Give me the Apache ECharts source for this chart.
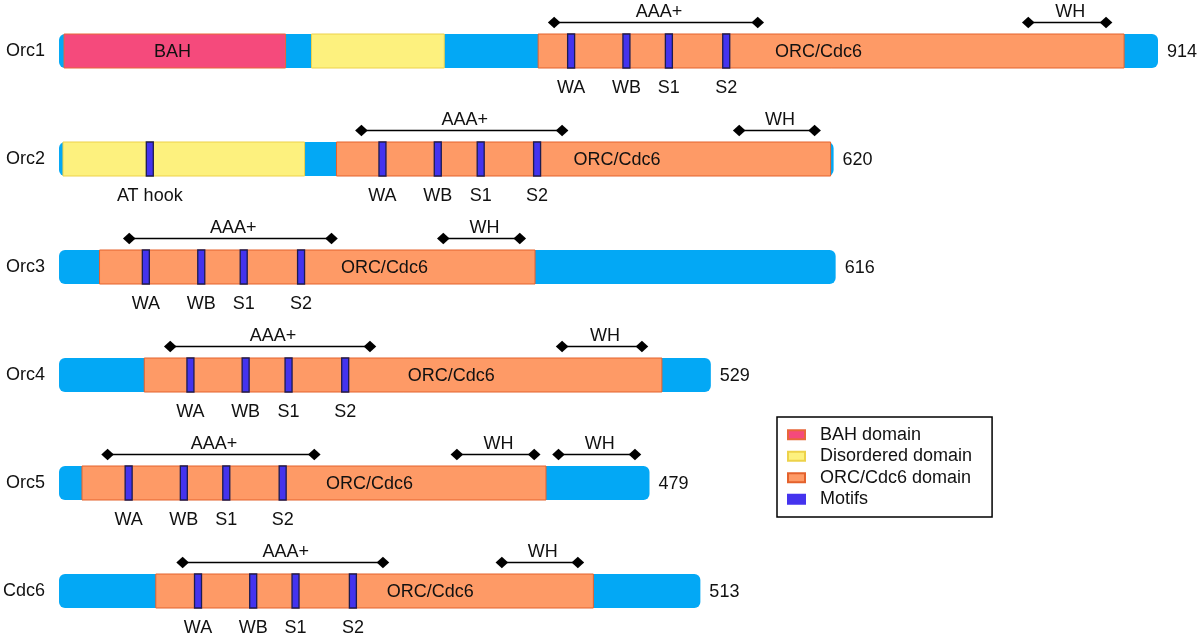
<!DOCTYPE html>
<html><head><meta charset="utf-8">
<script src="https://cdn.jsdelivr.net/npm/echarts@6/dist/echarts.min.js"></script>
<style>html,body{margin:0;padding:0;background:#fff}#c{width:1200px;height:638px}</style>
</head><body><div id="c"></div>
<script>
// ---- data (x in residue-like units along a shared axis, row = protein index) ----
const proteins = ['Orc1', 'Orc2', 'Orc3', 'Orc4', 'Orc5', 'Cdc6'];
const lengthLabels = ['914', '620', '616', '529', '479', '513'];
const drawnLength = [914, 644.2, 645.9, 542.1, 491.1, 533.4];
const bahDomains = [[0, 4.2, 188.4, 'BAH']];
const disorderedDomains = [[0, 210.0, 320.4], [1, 3.3, 204.2]];
const orcDomains = [[0, 398.5, 885.8], [1, 230.8, 641.7], [2, 33.7, 395.9], [3, 70.9, 501.4], [4, 19.1, 405.0], [5, 80.5, 444.4]];
const orcLabelPos = [631.7, 464.0, 270.6, 326.2, 258.2, 308.8];
const motifs = [
  [0, 425.9, 'WA'], [0, 471.9, 'WB'], [0, 507.2, 'S1'], [0, 554.9, 'S2'],
  [1, 75.5, 'AT hook'], [1, 269.0, 'WA'], [1, 315.0, 'WB'], [1, 350.7, 'S1'], [1, 397.6, 'S2'],
  [2, 72.2, 'WA'], [2, 118.3, 'WB'], [2, 153.6, 'S1'], [2, 201.3, 'S2'],
  [3, 109.3, 'WA'], [3, 155.2, 'WB'], [3, 190.9, 'S1'], [3, 238.0, 'S2'],
  [4, 57.9, 'WA'], [4, 103.8, 'WB'], [4, 139.1, 'S1'], [4, 186.0, 'S2'],
  [5, 115.6, 'WA'], [5, 161.5, 'WB'], [5, 196.7, 'S1'], [5, 244.4, 'S2']
];
const aaaSpans = [[0, 411.8, 581.1], [1, 251.5, 418.4], [2, 58.4, 226.6], [3, 92.5, 258.6], [4, 40.4, 212.3], [5, 102.8, 269.4]];
const whSpans = [[0, 806.1, 870.8], [1, 565.7, 628.4], [2, 319.6, 383.2], [3, 418.4, 484.8], [4, 330.9, 395.2], [4, 415.4, 479.0], [5, 368.3, 431.5]];
const legendNames = ['BAH domain', 'Disordered domain', 'ORC/Cdc6 domain', 'Motifs'];

// ---- styles ----
const FONT = "'Liberation Sans', Arial, Helvetica, sans-serif";
const BAR_H = 34;
const MOTIF_W = 7;
const C = {
  base: '#03A8F5', bah: '#F54A7C', bahB: '#E8673A', dis: '#FDF17E', disB: '#EDD24A',
  orc: '#FE9A66', orcB: '#E4622C', motif: '#4433EE', motifB: '#1C1C50'
};

function rectSeries(name, data, fill, stroke, labelFn) {
  return {
    type: 'custom', name: name, data: data,
    itemStyle: { color: fill, borderColor: stroke, borderWidth: 1 },
    encode: { x: [1, 2], y: 0 },
    renderItem: function (params, api) {
      const s = api.coord([api.value(1), api.value(0)]);
      const e = api.coord([api.value(2), api.value(0)]);
      const children = [{
        type: 'rect',
        shape: { x: s[0], y: s[1] - BAR_H / 2, width: e[0] - s[0], height: BAR_H },
        style: { fill: fill, stroke: stroke, lineWidth: 1 }
      }];
      const lab = labelFn ? labelFn(params.dataIndex) : null;
      if (lab) {
        const p = api.coord([lab.x, api.value(0)]);
        children.push({ type: 'text', x: p[0], y: p[1] + 1, style: { text: lab.text, fill: '#111', font: '18px ' + FONT, align: 'center', verticalAlign: 'middle' } });
      }
      return { type: 'group', children: children };
    }
  };
}

const baseData = proteins.map((p, i) => [i, 0, drawnLength[i]]);

const series = [
  {
    type: 'custom', name: 'protein', data: baseData, encode: { x: [1, 2], y: 0 },
    renderItem: function (params, api) {
      const i = params.dataIndex;
      const s = api.coord([api.value(1), api.value(0)]);
      const e = api.coord([api.value(2), api.value(0)]);
      return { type: 'group', children: [
        { type: 'rect', shape: { x: s[0], y: s[1] - BAR_H / 2, width: e[0] - s[0], height: BAR_H, r: 6 }, style: { fill: C.base } },
        { type: 'text', x: e[0] + 9, y: s[1] + 1, style: { text: lengthLabels[i], fill: '#111', font: '18px ' + FONT, align: 'left', verticalAlign: 'middle' } }
      ] };
    }
  },
  rectSeries('BAH domain', bahDomains, C.bah, C.bahB, i => ({ x: (bahDomains[i][1] + bahDomains[i][2]) / 2 - 2, text: bahDomains[i][3] })),
  rectSeries('Disordered domain', disorderedDomains, C.dis, C.disB, null),
  rectSeries('ORC/Cdc6 domain', orcDomains, C.orc, C.orcB, i => ({ x: orcLabelPos[orcDomains[i][0]], text: 'ORC/Cdc6' })),
  {
    type: 'custom', name: 'Motifs', data: motifs, encode: { x: 1, y: 0 },
    itemStyle: { color: C.motif, borderColor: C.motif, borderWidth: 1 },
    renderItem: function (params, api) {
      const p = api.coord([api.value(1), api.value(0)]);
      return { type: 'group', children: [
        { type: 'rect', shape: { x: p[0] - MOTIF_W / 2, y: p[1] - BAR_H / 2, width: MOTIF_W, height: BAR_H }, style: { fill: C.motif, stroke: C.motifB, lineWidth: 1.3 } },
        { type: 'text', x: p[0], y: p[1] + BAR_H / 2 + 20, style: { text: motifs[params.dataIndex][2], fill: '#111', font: '18px ' + FONT, align: 'center', verticalAlign: 'middle' } }
      ] };
    }
  }
];

function spanSeries(name, data, text) {
  return {
    type: 'custom', name: name, data: data, encode: { x: [1, 2], y: 0 },
    renderItem: function (params, api) {
      const s = api.coord([api.value(1), api.value(0)]);
      const e = api.coord([api.value(2), api.value(0)]);
      const y = s[1] - BAR_H / 2 - 11.5;
      const d = 6.3;
      const dia = x => ({ type: 'polygon', shape: { points: [[x - d, y], [x, y - d * 0.9], [x + d, y], [x, y + d * 0.9]] }, style: { fill: '#000' } });
      return { type: 'group', children: [
        { type: 'line', shape: { x1: s[0], y1: y, x2: e[0], y2: y }, style: { stroke: '#000', lineWidth: 1.6 } },
        dia(s[0]), dia(e[0]),
        { type: 'text', x: (s[0] + e[0]) / 2 + 3, y: y - 10, style: { text: text, fill: '#111', font: '18px ' + FONT, align: 'center', verticalAlign: 'middle' } }
      ] };
    }
  };
}
series.push(spanSeries('AAA+', aaaSpans, 'AAA+'));
series.push(spanSeries('WH', whSpans, 'WH'));

const chart = echarts.init(document.getElementById('c'), null, { renderer: 'canvas' });
chart.setOption({
  animation: false,
  backgroundColor: '#fff',
  grid: { left: 57, right: 42, top: 51, bottom: 47 },
  xAxis: { type: 'value', min: 0, max: 914, show: false },
  yAxis: {
    type: 'category', data: proteins, inverse: true, boundaryGap: false,
    axisLine: { show: false }, axisTick: { show: false }, splitLine: { show: false },
    axisLabel: { fontSize: 18, color: '#111', fontFamily: FONT, margin: 14 }
  },
  legend: {
    orient: 'vertical', left: 777, top: 417, selectedMode: false,
    data: legendNames.map(n => ({ name: n, icon: 'rect' })),
    itemWidth: 17, itemHeight: 9, itemGap: 2,
    padding: [8, 20, 8, 10],
    borderColor: '#000', borderWidth: 1.5,
    textStyle: { fontSize: 18, color: '#111', fontFamily: FONT, lineHeight: 19.5, padding: [0, 0, 0, 10] }
  },
  series: series
});
</script></body></html>
